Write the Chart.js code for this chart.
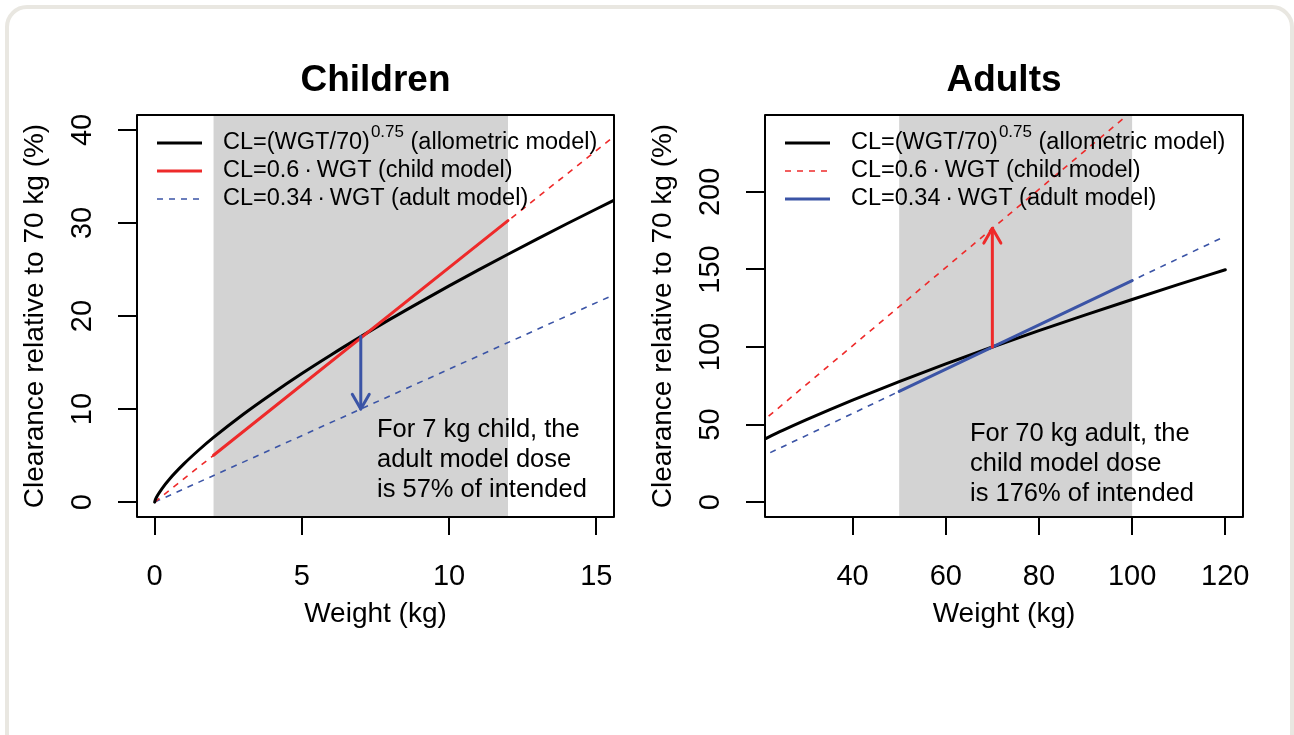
<!DOCTYPE html>
<html>
<head>
<meta charset="utf-8">
<script src="https://cdn.jsdelivr.net/npm/chart.js@4.4.1/dist/chart.umd.min.js"></script>
<style>
  html, body { margin: 0; padding: 0; background: #fff; }
  #page { position: relative; width: 1294px; height: 735px; overflow: hidden; }
  #frame { position: absolute; left: 5px; top: 5px; width: 1281px; height: 800px;
           border: 4px solid #e9e7e1; border-radius: 22px; }
  canvas { position: absolute; top: 0; }
</style>
</head>
<body>
<div id="page">
  <div id="frame"></div>
  <canvas id="children" width="647" height="735" style="left:0"></canvas>
  <canvas id="adults" width="647" height="735" style="left:647px"></canvas>
</div>
<script>
// ---- data ----
// Children panel
const childWeights     = [0, 0.02, 0.05, 0.1, 0.25, 0.5, 1, 1.5, 2, 3, 4, 5, 6, 7, 8, 9, 10, 11, 12, 13, 14, 15, 16];
const childAllometric  = [0, 0.22, 0.44, 0.73, 1.46, 2.46, 4.13, 5.60, 6.95, 9.42, 11.68, 13.82, 15.84, 17.78, 19.66, 21.47, 23.24, 24.96, 26.64, 28.29, 29.91, 31.50, 33.06];
const childLineW       = [0, 16];
const childModelAll    = [0, 40.3];
const adultModelAll    = [0, 22.86];
const childRangeW      = [2, 12];
const childModelRange  = [5.04, 30.25];
const childArrowW      = [7, 7];
const childArrowY      = [17.8, 10.0];
const childXTicks      = [0, 5, 10, 15];
const childYTicks      = [0, 10, 20, 30, 40];

// Adults panel
const adultWeights     = [20, 25, 30, 35, 40, 45, 50, 60, 70, 80, 90, 100, 110, 120];
const adultAllometric  = [39.08, 46.20, 52.97, 59.46, 65.72, 71.79, 77.69, 89.08, 100, 110.53, 120.74, 130.67, 140.35, 149.82];
const adultLineW       = [20, 120];
const childModelAdults = [50.4, 302.5];
const adultModelAdults = [28.57, 171.43];
const adultRangeW      = [50, 100];
const adultModelRange  = [71.43, 142.86];
const adultArrowW      = [70, 70];
const adultArrowY      = [100, 176.5];
const adultXTicks      = [40, 60, 80, 100, 120];
const adultYTicks      = [0, 50, 100, 150, 200];

const RED = '#ee2a2a';
const BLUE = '#3b54a6';
const FONT = '"Liberation Sans", Arial, Helvetica, sans-serif';

const pts = (xs, ys) => xs.map((v, i) => ({ x: v, y: ys[i] }));

function solid(data, color, order) {
  return { data, borderColor: color, borderWidth: 3, pointRadius: 0, borderCapStyle: 'round', order };
}
function dashed(data, color, order) {
  return { data, borderColor: color, borderWidth: 1.6, borderDash: [6, 6], pointRadius: 0, order };
}

// draws the base-R look: shading, box, ticks, labels, legend, notes, arrow head
function rPlot(cfg) {
  return {
    id: 'rPlot',
    beforeDatasetsDraw(chart) {
      const { ctx, chartArea: a, scales: { x } } = chart;
      const x0 = x.getPixelForValue(cfg.shade[0]);
      const x1 = x.getPixelForValue(cfg.shade[1]);
      ctx.save();
      ctx.fillStyle = '#d3d3d3';
      ctx.fillRect(x0, a.top, x1 - x0, a.bottom - a.top);
      ctx.restore();
    },
    afterDatasetsDraw(chart) {
      const { ctx, chartArea: a, scales: { x, y } } = chart;
      ctx.save();

      // arrow head
      const tx = x.getPixelForValue(cfg.arrowX[1]);
      const ty = y.getPixelForValue(cfg.arrowY[1]);
      const sx = x.getPixelForValue(cfg.arrowX[0]);
      const sy = y.getPixelForValue(cfg.arrowY[0]);
      const ang = Math.atan2(ty - sy, tx - sx);
      const len = 17, spread = Math.PI / 6;
      ctx.strokeStyle = cfg.arrowColor;
      ctx.lineWidth = 3;
      ctx.lineCap = 'round';
      ctx.lineJoin = 'round';
      ctx.beginPath();
      ctx.moveTo(tx - len * Math.cos(ang - spread), ty - len * Math.sin(ang - spread));
      ctx.lineTo(tx, ty);
      ctx.lineTo(tx - len * Math.cos(ang + spread), ty - len * Math.sin(ang + spread));
      ctx.stroke();

      // box
      ctx.strokeStyle = '#000';
      ctx.lineWidth = 2;
      ctx.lineCap = 'butt';
      ctx.strokeRect(a.left, a.top, a.right - a.left, a.bottom - a.top);

      // ticks
      ctx.beginPath();
      cfg.xTicks.forEach(v => {
        const px = Math.round(x.getPixelForValue(v));
        ctx.moveTo(px, a.bottom); ctx.lineTo(px, a.bottom + 18);
      });
      cfg.yTicks.forEach(v => {
        const py = Math.round(y.getPixelForValue(v));
        ctx.moveTo(a.left - 19, py); ctx.lineTo(a.left, py);
      });
      ctx.stroke();

      ctx.fillStyle = '#000';
      ctx.font = '29px ' + FONT;
      ctx.textAlign = 'center';
      ctx.textBaseline = 'alphabetic';
      cfg.xTicks.forEach(v => ctx.fillText(String(v), x.getPixelForValue(v), a.bottom + 68));
      const cx = (a.left + a.right) / 2;
      const cy = (a.top + a.bottom) / 2;
      ctx.font = '28px ' + FONT;
      ctx.fillText('Weight (kg)', cx, a.bottom + 105);

      ctx.font = '29px ' + FONT;
      cfg.yTicks.forEach(v => {
        ctx.save();
        ctx.translate(a.left - 46, y.getPixelForValue(v));
        ctx.rotate(-Math.PI / 2);
        ctx.fillText(String(v), 0, 0);
        ctx.restore();
      });
      ctx.font = '28px ' + FONT;
      ctx.save();
      ctx.translate(a.left - 94, cy);
      ctx.rotate(-Math.PI / 2);
      ctx.fillText('Clearance relative to 70 kg (%)', 0, 0);
      ctx.restore();

      // title
      ctx.font = 'bold 37px ' + FONT;
      ctx.fillText(cfg.title, cx, 91);

      // legend
      ctx.textAlign = 'left';
      ctx.textBaseline = 'middle';
      cfg.legend.forEach((e, i) => {
        const ly = 143 + i * 28;
        ctx.strokeStyle = e.color;
        ctx.lineWidth = e.dash ? 1.6 : 3;
        ctx.setLineDash(e.dash ? [6, 6] : []);
        ctx.beginPath();
        ctx.moveTo(a.left + 20, ly); ctx.lineTo(a.left + 65, ly);
        ctx.stroke();
        ctx.setLineDash([]);
        let tx0 = a.left + 86;
        ctx.fillStyle = '#000';
        e.parts.forEach(p => {
          if (p.sup) {
            ctx.font = '17px ' + FONT;
            ctx.fillText(p.sup, tx0 + 1, ly - 11);
            tx0 += ctx.measureText(p.sup).width + 1;
          } else {
            ctx.font = '23.5px ' + FONT;
            ctx.fillText(p.t, tx0, ly);
            tx0 += ctx.measureText(p.t).width;
          }
        });
      });

      // note
      ctx.font = '25.5px ' + FONT;
      ctx.textBaseline = 'alphabetic';
      cfg.note.forEach((line, i) => ctx.fillText(line, a.left + cfg.noteX, cfg.noteY + i * 30));

      ctx.restore();
    }
  };
}

function makePanel(id, cfg) {
  new Chart(document.getElementById(id), {
    type: 'line',
    data: { datasets: cfg.datasets },
    options: {
      responsive: false,
      animation: false,
      layout: { padding: cfg.padding },
      plugins: { legend: { display: false }, title: { display: false }, tooltip: { enabled: false } },
      scales: {
        x: { type: 'linear', min: cfg.xRange[0], max: cfg.xRange[1], display: false },
        y: { type: 'linear', min: cfg.yRange[0], max: cfg.yRange[1], display: false }
      }
    },
    plugins: [rPlot(cfg)]
  });
}

const allomParts = [{ t: 'CL=(WGT/70)' }, { sup: '0.75' }, { t: ' (allometric model)' }];
const childParts = [{ t: 'CL=0.6\u2009\u00b7\u2009WGT (child model)' }];
const adultParts = [{ t: 'CL=0.34\u2009\u00b7\u2009WGT (adult model)' }];

makePanel('children', {
  title: 'Children',
  padding: { left: 137, right: 33, top: 115, bottom: 218 },
  xRange: [-0.6, 15.6], yRange: [-1.6, 41.6],
  xTicks: childXTicks, yTicks: childYTicks,
  shade: childRangeW,
  arrowX: childArrowW, arrowY: childArrowY, arrowColor: BLUE,
  legend: [
    { color: '#000', parts: allomParts },
    { color: RED, parts: childParts },
    { color: BLUE, dash: true, parts: adultParts }
  ],
  note: ['For 7 kg child, the', 'adult model dose', 'is 57% of intended'],
  noteX: 240, noteY: 437,
  datasets: [
    dashed(pts(childLineW, childModelAll), RED, 4),
    dashed(pts(childLineW, adultModelAll), BLUE, 4),
    Object.assign(solid(pts(childWeights, childAllometric), '#000', 3), { cubicInterpolationMode: 'monotone' }),
    solid(pts(childRangeW, childModelRange), RED, 2),
    solid(pts(childArrowW, childArrowY), BLUE, 1)
  ]
});

makePanel('adults', {
  title: 'Adults',
  padding: { left: 118, right: 51, top: 115, bottom: 218 },
  xRange: [21.2, 123.8], yRange: [-9.6, 249.6],
  xTicks: adultXTicks, yTicks: adultYTicks,
  shade: adultRangeW,
  arrowX: adultArrowW, arrowY: adultArrowY, arrowColor: RED,
  legend: [
    { color: '#000', parts: allomParts },
    { color: RED, dash: true, parts: childParts },
    { color: BLUE, parts: adultParts }
  ],
  note: ['For 70 kg adult, the', 'child model dose', 'is 176% of intended'],
  noteX: 205, noteY: 441,
  datasets: [
    dashed(pts(adultLineW, childModelAdults), RED, 4),
    dashed(pts(adultLineW, adultModelAdults), BLUE, 4),
    Object.assign(solid(pts(adultWeights, adultAllometric), '#000', 3), { cubicInterpolationMode: 'monotone' }),
    solid(pts(adultRangeW, adultModelRange), BLUE, 2),
    solid(pts(adultArrowW, adultArrowY), RED, 1)
  ]
});
</script>
</body>
</html>
